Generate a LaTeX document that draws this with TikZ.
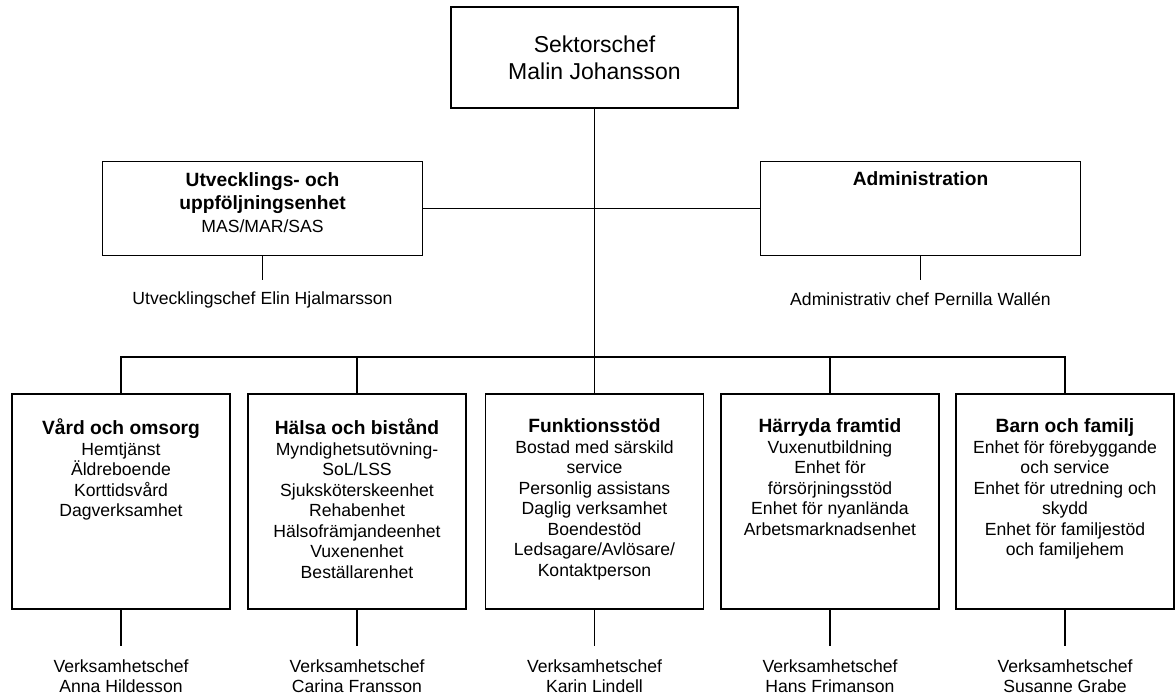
\documentclass[tikz,border=0pt]{standalone}
\usepackage{fontspec}
\setmainfont{Liberation Sans}
\usetikzlibrary{positioning}
\newcommand{\unithead}[1]{{\fontsize{9.6}{10.25}\selectfont\bfseries #1}}
\begin{document}
\begin{tikzpicture}[x=0.5pt,y=-0.5pt,line width=0.8pt,
  unit/.style={draw,minimum width=109pt,minimum height=107.5pt,inner sep=0pt},
  staff/.style={draw,minimum width=160pt,minimum height=47pt,inner sep=0pt},
  txt/.style={align=center,inner sep=0pt,font=\fontsize{8.8}{10.25}\selectfont},
  tie/.style={shorten >=6.5pt}]
\useasboundingbox (0,0) rectangle (1175,694);
\node[draw,minimum width=143.5pt,minimum height=50.5pt,align=center,
  font=\fontsize{11.5}{13.5}\selectfont] (chef) at (594.5,57.5) {Sektorschef\\Malin Johansson};
\node[staff] (utv) at (262.5,208.5) {};
\node[staff] (adm) at (920.5,208.5) {};
\node[txt,font=\fontsize{8.8}{11.5}\selectfont,below=5.5pt of utv.north] (utvtext) {\unithead{Utvecklings- och}\\\unithead{uppföljningsenhet}\\MAS/MAR/SAS};
\node[txt,below=5pt of adm.north] (admtext) {\unithead{Administration}};
\node[txt,below=17.5pt of utv.south] (utvchef) {Utvecklingschef Elin Hjalmarsson};
\node[txt,below=17.5pt of adm.south] (admchef) {Administrativ chef Pernilla Wallén};
\node[unit] (vard) at (121,501.5) {};
\node[unit] (halsa) at (357,501.5) {};
\node[unit] (funk) at (594.5,501.5) {};
\node[unit] (harryda) at (830,501.5) {};
\node[unit] (barn) at (1065,501.5) {};
\node[txt,below=12.5pt of vard.north] (vardtext) {\unithead{Vård och omsorg}\\Hemtjänst\\Äldreboende\\Korttidsvård\\Dagverksamhet};
\node[txt,below=12.5pt of halsa.north] (halsatext) {\unithead{Hälsa och bistånd}\\Myndighetsutövning-\\SoL/LSS\\Sjuksköterskeenhet\\Rehabenhet\\Hälsofrämjandeenhet\\Vuxenenhet\\Beställarenhet};
\node[txt,below=12.5pt of funk.north] (funktext) {\unithead{Funktionsstöd}\\Bostad med särskild\\service\\Personlig assistans\\Daglig verksamhet\\Boendestöd\\Ledsagare/Avlösare/\\Kontaktperson};
\node[txt,below=12.5pt of harryda.north] (harrydatext) {\unithead{Härryda framtid}\\Vuxenutbildning\\Enhet för\\försörjningsstöd\\Enhet för nyanlända\\Arbetsmarknadsenhet};
\node[txt,below=12.5pt of barn.north] (barntext) {\unithead{Barn och familj}\\Enhet för förebyggande\\och service\\Enhet för utredning och\\skydd\\Enhet för familjestöd\\och familjehem};
\node[txt,below=24.5pt of vard.south] (vardchef) {Verksamhetschef\\Anna Hildesson};
\node[txt,below=24.5pt of halsa.south] (halsachef) {Verksamhetschef\\Carina Fransson};
\node[txt,below=24.5pt of funk.south] (funkchef) {Verksamhetschef\\Karin Lindell};
\node[txt,below=24.5pt of harryda.south] (harrydachef) {Verksamhetschef\\Hans Frimanson};
\node[txt,below=24.5pt of barn.south] (barnchef) {Verksamhetschef\\Susanne Grabe};
\coordinate (bus) at (594.5,357);
\draw (chef.south) -- (funk.north);
\draw (utv.east) -- (adm.west);
\draw (vard.north) |- (bus) -| (barn.north);
\draw (halsa.north) -- (halsa.north |- bus);
\draw (harryda.north) -- (harryda.north |- bus);
\draw[tie,shorten >=5.5pt] (utv.south) -- (utvchef.north);
\draw[tie,shorten >=5.5pt] (adm.south) -- (admchef.north);
\draw[tie] (vard.south) -- (vardchef.north);
\draw[tie] (halsa.south) -- (halsachef.north);
\draw[tie] (funk.south) -- (funkchef.north);
\draw[tie] (harryda.south) -- (harrydachef.north);
\draw[tie] (barn.south) -- (barnchef.north);
\end{tikzpicture}
\end{document}
